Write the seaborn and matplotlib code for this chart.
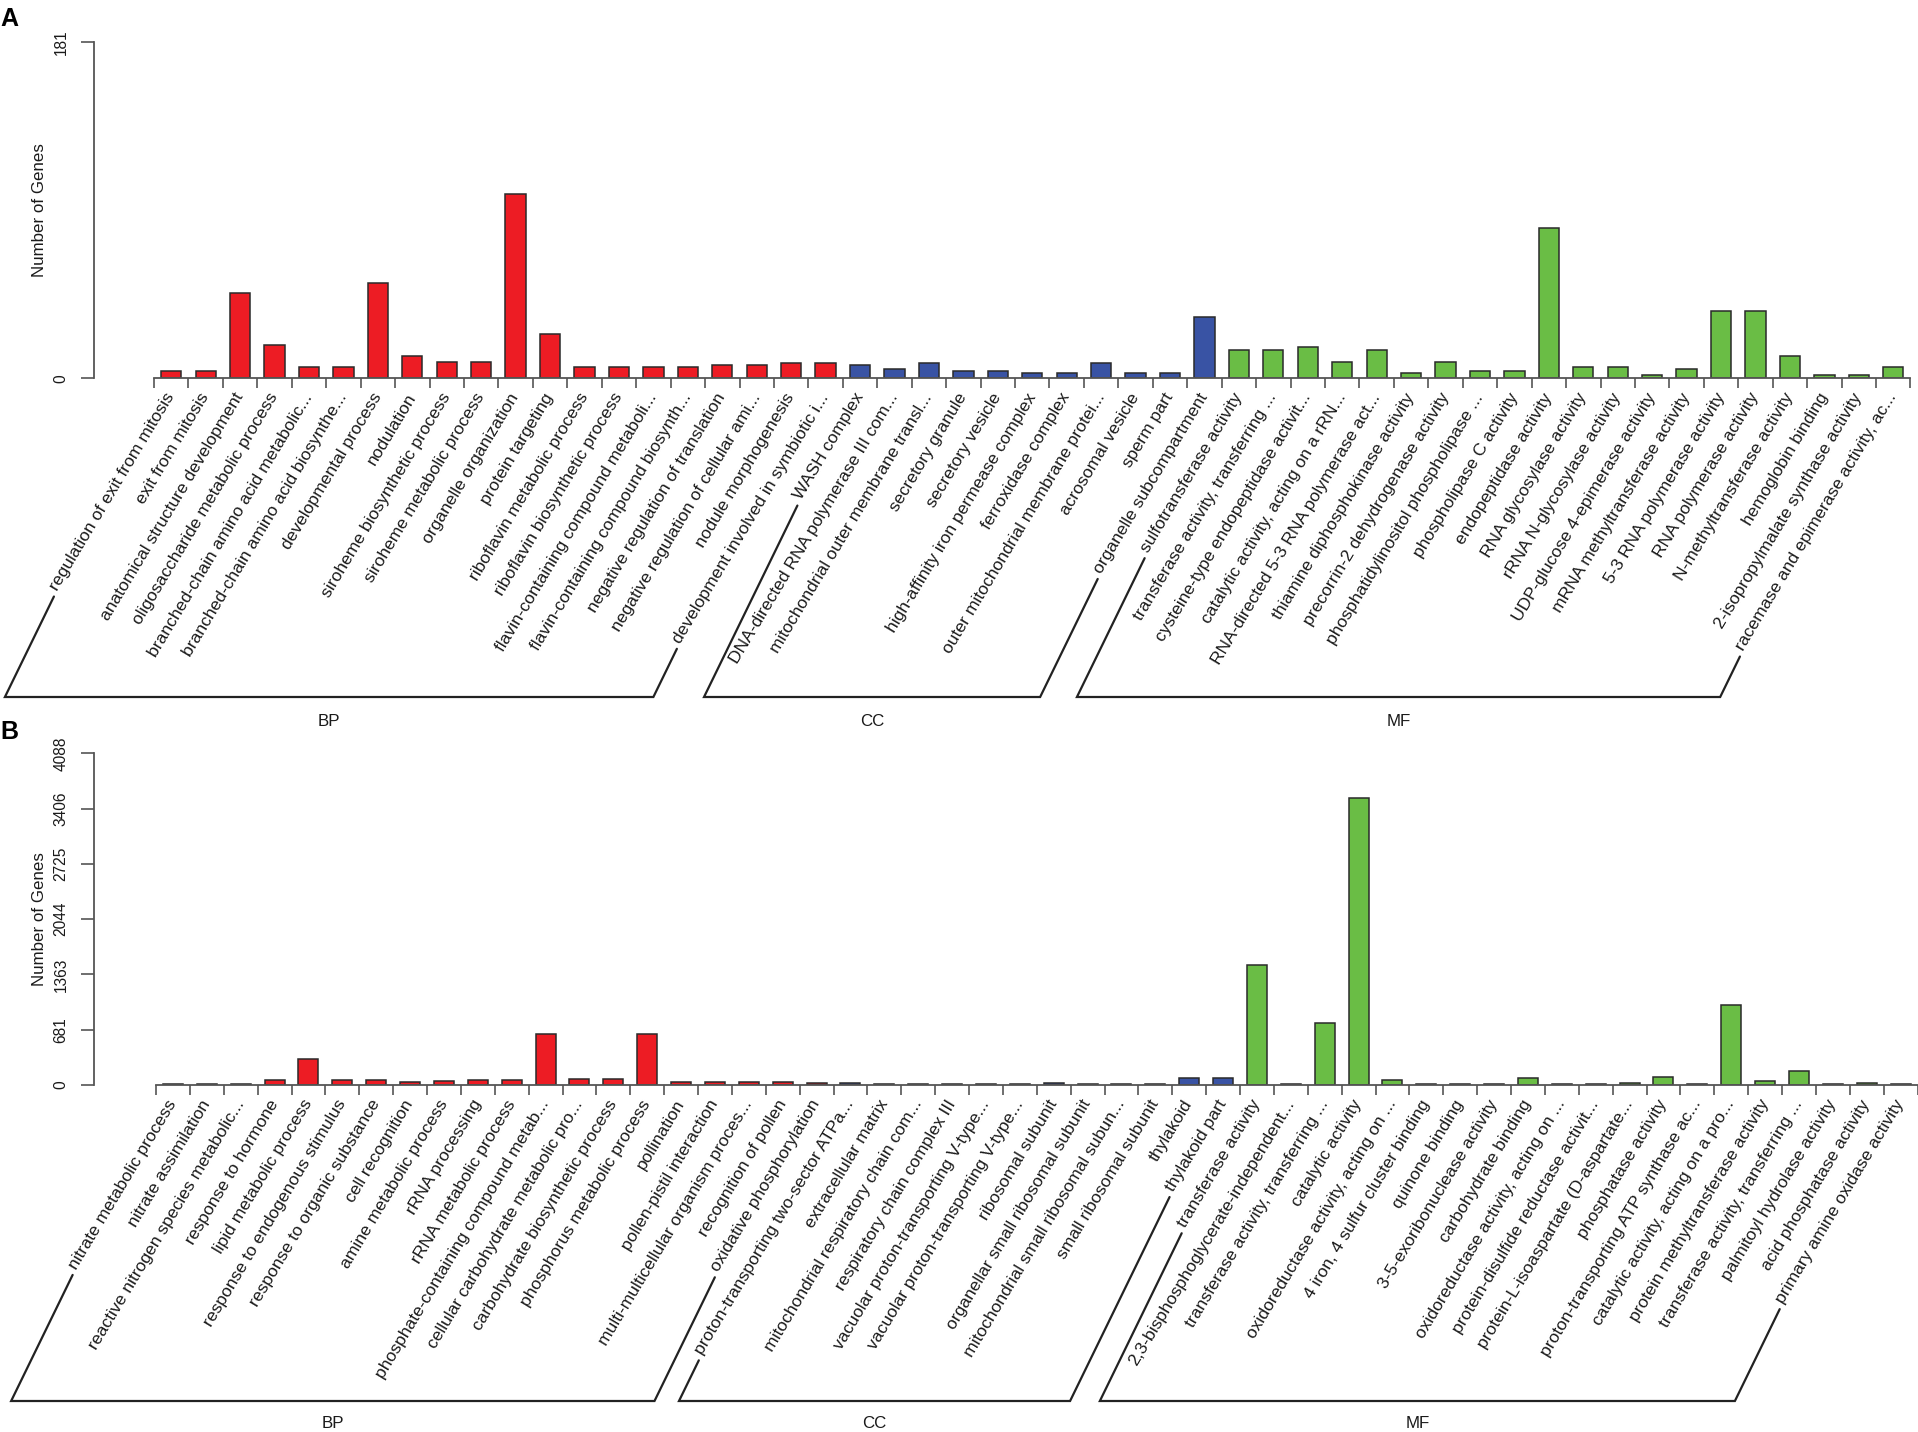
import numpy as np
import pandas as pd
import matplotlib
matplotlib.use("Agg")
import matplotlib.pyplot as plt
import seaborn as sns
from matplotlib.font_manager import FontProperties
from matplotlib.lines import Line2D

# ---------------- data ----------------
group_names = ["BP", "CC", "MF"]

a_terms = [
    "regulation of exit from mitosis", "exit from mitosis", "anatomical structure development",
    "oligosaccharide metabolic process", "branched-chain amino acid metabolic...",
    "branched-chain amino acid biosynthe...", "developmental process", "nodulation",
    "siroheme biosynthetic process", "siroheme metabolic process", "organelle organization",
    "protein targeting", "riboflavin metabolic process", "riboflavin biosynthetic process",
    "flavin-containing compound metaboli...", "flavin-containing compound biosynth...",
    "negative regulation of translation", "negative regulation of cellular ami...",
    "nodule morphogenesis", "development involved in symbiotic i...",
    "WASH complex", "DNA-directed RNA polymerase III com...", "mitochondrial outer membrane transl...",
    "secretory granule", "secretory vesicle", "high-affinity iron permease complex",
    "ferroxidase complex", "outer mitochondrial membrane protei...", "acrosomal vesicle",
    "sperm part", "organelle subcompartment",
    "sulfotransferase activity", "transferase activity, transferring ...",
    "cysteine-type endopeptidase activit...", "catalytic activity, acting on a rRN...",
    "RNA-directed 5-3 RNA polymerase act...", "thiamine diphosphokinase activity",
    "precorrin-2 dehydrogenase activity", "phosphatidylinositol phospholipase ...",
    "phospholipase C activity", "endopeptidase activity", "RNA glycosylase activity",
    "rRNA N-glycosylase activity", "UDP-glucose 4-epimerase activity",
    "mRNA methyltransferase activity", "5-3 RNA polymerase activity", "RNA polymerase activity",
    "N-methyltransferase activity", "hemoglobin binding", "2-isopropylmalate synthase activity",
    "racemase and epimerase activity, ac...",
]
a_counts = [4, 4, 46, 18, 6, 6, 51, 12, 9, 9, 99, 24, 6, 6, 6, 6, 7, 7, 8, 8,
            7, 5, 8, 4, 4, 3, 3, 8, 3, 3, 33,
            15, 15, 17, 9, 15, 3, 9, 4, 4, 81, 6, 6, 2, 5, 36, 36, 12, 2, 2, 6]
a_group_sizes = [20, 11, 20]
a_ymax = 181
a_yticks = [0, 181]
a_yticklabels = ["0", "181"]

b_terms = [
    "nitrate metabolic process", "nitrate assimilation", "reactive nitrogen species metabolic...",
    "response to hormone", "lipid metabolic process", "response to endogenous stimulus",
    "response to organic substance", "cell recognition", "amine metabolic process",
    "rRNA processing", "rRNA metabolic process", "phosphate-containing compound metab...",
    "cellular carbohydrate metabolic pro...", "carbohydrate biosynthetic process",
    "phosphorus metabolic process", "pollination", "pollen-pistil interaction",
    "multi-multicellular organism proces...", "recognition of pollen", "oxidative phosphorylation",
    "proton-transporting two-sector ATPa...", "extracellular matrix",
    "mitochondrial respiratory chain com...", "respiratory chain complex III",
    "vacuolar proton-transporting V-type...", "vacuolar proton-transporting V-type...",
    "ribosomal subunit", "organellar small ribosomal subunit",
    "mitochondrial small ribosomal subun...", "small ribosomal subunit", "thylakoid", "thylakoid part",
    "transferase activity", "2,3-bisphosphoglycerate-independent...",
    "transferase activity, transferring ...", "catalytic activity",
    "oxidoreductase activity, acting on ...", "4 iron, 4 sulfur cluster binding", "quinone binding",
    "3-5-exoribonuclease activity", "carbohydrate binding", "oxidoreductase activity, acting on ...",
    "protein-disulfide reductase activit...", "protein-L-isoaspartate (D-aspartate...",
    "phosphatase activity", "proton-transporting ATP synthase ac...",
    "catalytic activity, acting on a pro...", "protein methyltransferase activity",
    "transferase activity, transferring ...", "palmitoyl hydrolase activity",
    "acid phosphatase activity", "primary amine oxidase activity",
]
b_counts = [10, 10, 10, 57, 320, 57, 62, 33, 45, 57, 57, 633, 74, 78, 633, 33, 33, 33, 33, 25,
            29, 12, 12, 12, 12, 12, 20, 8, 8, 8, 90, 90,
            1475, 8, 768, 3540, 57, 16, 16, 12, 82, 16, 16, 25, 94, 16, 982, 45, 173, 8, 25, 12]
b_group_sizes = [20, 12, 20]
b_ymax = 4088
b_yticks = [0, 681, 1363, 2044, 2725, 3406, 4088]
b_yticklabels = ["0", "681", "1363", "2044", "2725", "3406", "4088"]

palette = {"BP": "#ED1C24", "CC": "#3953A4", "MF": "#6ABD45"}

# ---------------- figure ----------------
W, H = 1918, 1432
sns.set_theme(style="white")
plt.rcParams["font.family"] = ["Liberation Sans", "DejaVu Sans"]

fig = plt.figure(figsize=(W / 100, H / 100), dpi=100)
fig.patch.set_facecolor("white")
renderer = fig.canvas.get_renderer()

LABEL_FS = 12.6
LABEL_ROT = 59
LINE_ANG = 64
AXC = "#555555"
TXT = "#1a1a1a"
label_prop = FontProperties(family=["Liberation Sans", "DejaVu Sans"], size=LABEL_FS)


def fx(x):
    return x / W


def fy(y):
    return 1 - y / H


def draw_panel(terms, counts, sizes, ymax, yticks, yticklabels, left, right, top, bottom,
               axis_x, base_y, glabel_y, letter, letter_y):
    n = len(terms)
    groups = []
    for g, s in zip(group_names, sizes):
        groups += [g] * s
    ax = fig.add_axes([fx(left), fy(bottom), (right - left) / W, (bottom - top) / H])
    df = pd.DataFrame({"pos": np.arange(n), "count": counts, "group": groups})
    sns.barplot(data=df, x="pos", y="count", hue="group", hue_order=group_names,
                palette=palette, saturation=1, dodge=False, width=0.59,
                edgecolor="#2a2a2a", linewidth=1.1, legend=False, ax=ax)
    ax.set_xlim(-0.5, n - 0.5)
    ax.set_ylim(0, ymax)
    ax.set_facecolor("none")
    ax.grid(False)
    for s in ["top", "right"]:
        ax.spines[s].set_visible(False)
    ax.spines["bottom"].set_color(AXC)
    ax.spines["bottom"].set_linewidth(1.3)
    ax.spines["left"].set_color(AXC)
    ax.spines["left"].set_linewidth(1.3)
    ax.spines["left"].set_position(("outward", (left - axis_x) * 0.72))
    ax.spines["left"].set_bounds(0, ymax)
    ax.set_xticks(np.arange(n + 1) - 0.5)
    ax.set_xticklabels([])
    ax.tick_params(axis="x", which="both", bottom=True, length=7, width=1.2,
                   color=AXC, direction="out")
    ax.set_yticks(yticks)
    ax.set_yticklabels(yticklabels, rotation=90, va="center", fontsize=11.2, color=TXT)
    ax.tick_params(axis="y", left=True, length=9.4, width=1.2, color=AXC,
                   direction="out", pad=8.5)
    ax.set_xlabel("")
    ax.set_ylabel("")

    fig.text(fx(40), fy((top + bottom) / 2), "Number of Genes", rotation=90,
             ha="center", va="center", fontsize=12.2, color=TXT)
    fig.text(fx(0), fy(letter_y), letter, ha="left", va="baseline",
             fontsize=18, fontweight="bold", color="black")

    # rotated category labels
    step = (right - left) / n
    anchor_y = bottom + 16
    cr, sr = np.cos(np.radians(LABEL_ROT)), np.sin(np.radians(LABEL_ROT))
    starts = []
    for i, t in enumerate(terms):
        cx = left + (i + 0.5) * step
        fig.text(fx(cx), fy(anchor_y), t, rotation=LABEL_ROT, rotation_mode="anchor",
                 ha="right", va="center", fontproperties=label_prop, color=TXT)
        w, h, d = renderer.get_text_width_height_descent(t, label_prop, ismath=False)
        starts.append((cx - w * cr, anchor_y + w * sr))

    # group brackets
    tl = np.tan(np.radians(LINE_ANG))
    idx = 0
    for g, s in zip(group_names, sizes):
        i0, i1 = idx, idx + s - 1
        idx += s
        p0 = (starts[i0][0], starts[i0][1] + 7)
        p1 = (starts[i1][0], starts[i1][1] + 7)
        b0 = (p0[0] - (base_y - p0[1]) / tl, base_y)
        b1 = (p1[0] - (base_y - p1[1]) / tl, base_y)
        xs = [p0[0], b0[0], b1[0], p1[0]]
        ys = [p0[1], b0[1], b1[1], p1[1]]
        fig.add_artist(Line2D([fx(v) for v in xs], [fy(v) for v in ys],
                              transform=fig.transFigure, color="#222222", lw=1.6,
                              solid_joinstyle="miter"))
        fig.text(fx((b0[0] + b1[0]) / 2), fy(glabel_y), g, ha="center", va="center",
                 fontsize=12.2, color=TXT)


draw_panel(a_terms, a_counts, a_group_sizes, a_ymax, a_yticks, a_yticklabels,
           left=154, right=1910.5, top=41.7, bottom=378.3, axis_x=93.5,
           base_y=697, glabel_y=722, letter="A", letter_y=26)

draw_panel(b_terms, b_counts, b_group_sizes, b_ymax, b_yticks, b_yticklabels,
           left=156, right=1917.5, top=753.3, bottom=1085, axis_x=93.5,
           base_y=1401, glabel_y=1424, letter="B", letter_y=739)

fig.savefig("out.png", dpi=100, facecolor="white")
